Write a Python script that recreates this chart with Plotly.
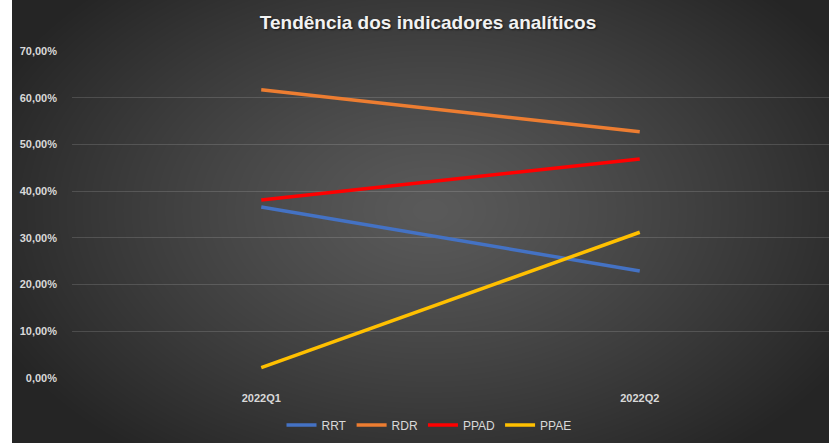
import base64, struct, zlib
import numpy as np
import plotly.graph_objects as go

# ---- data ----
categories = ["2022Q1", "2022Q2"]
rrt = [0.366, 0.229]
rdr = [0.617, 0.527]
ppad = [0.381, 0.469]
ppae = [0.022, 0.312]
series_names = ["RRT", "RDR", "PPAD", "PPAE"]
series_colors = ["#4472C4", "#ED7D31", "#FF0000", "#FFC000"]
y_tickvals = [0, 0.1, 0.2, 0.3, 0.4, 0.5, 0.6, 0.7]
y_ticktext = ["0,00%", "10,00%", "20,00%", "30,00%", "40,00%", "50,00%", "60,00%", "70,00%"]
title_text = "Tendência dos indicadores analíticos"

# ---- background radial gradient image ----
W, H = 829, 443
CX0 = 12  # chart area starts here
L, T, PW, PH = 72, 51, 757, 327


def make_png(arr):
    h, w, _ = arr.shape
    raw = b"".join(b"\x00" + arr[i].tobytes() for i in range(h))

    def chunk(tag, data):
        c = struct.pack(">I", len(data)) + tag + data
        return c + struct.pack(">I", zlib.crc32(tag + data) & 0xFFFFFFFF)

    png = b"\x89PNG\r\n\x1a\n"
    png += chunk(b"IHDR", struct.pack(">IIBBBBB", w, h, 8, 2, 0, 0, 0))
    png += chunk(b"IDAT", zlib.compress(raw, 9))
    png += chunk(b"IEND", b"")
    return "data:image/png;base64," + base64.b64encode(png).decode()


gw, gh = W - CX0, H
xs = np.arange(gw)[None, :] + CX0
ys = np.arange(gh)[:, None]
cx, cy, rx, ry = 430, 210, 480, 310
t = np.sqrt(((xs - cx) / rx) ** 2 + ((ys - cy) / ry) ** 2)
t = np.clip(t, 0, 1)
val = 90 - (90 - 37) * t ** 1.2
img = np.repeat(val[:, :, None], 3, axis=2).astype(np.uint8)
bg_uri = make_png(img)

fig = go.Figure()
for name, color, vals in zip(series_names, series_colors, [rrt, rdr, ppad, ppae]):
    fig.add_trace(go.Scatter(
        x=categories, y=vals, name=name, mode="lines",
        line=dict(color=color, width=3.5),
        hoverinfo="skip",
    ))

fig.add_layout_image(dict(
    source=bg_uri, xref="paper", yref="paper",
    x=(CX0 - L) / PW, y=(T + PH) / PH,
    sizex=gw / PW, sizey=H / PH,
    xanchor="left", yanchor="top", sizing="stretch", layer="below",
))

fig.update_layout(
    width=W, height=H,
    margin=dict(l=L, r=W - L - PW, t=T, b=H - T - PH),
    paper_bgcolor="white",
    plot_bgcolor="rgba(0,0,0,0)",
    title=dict(
        text="<b>" + title_text + "</b>",
        x=428 / W, xref="container", xanchor="center",
        y=1 - 22 / H, yref="container", yanchor="middle",
        font=dict(family="Liberation Sans, Arial, sans-serif", size=19, color="#F2F2F2",
                  shadow="1px 1px 2px rgba(0,0,0,0.6)"),
    ),
    font=dict(family="Liberation Sans, Arial, sans-serif", color="#D9D9D9"),
    showlegend=True,
    legend=dict(
        orientation="h", x=429 / W, xref="container", xanchor="center",
        y=1 - 425 / H, yref="container", yanchor="middle",
        font=dict(size=12, color="#D9D9D9"),
        bgcolor="rgba(0,0,0,0)", itemwidth=30, tracegroupgap=0,
    ),
)
fig.update_xaxes(
    type="category", range=[-0.5, 1.5],
    showgrid=False, zeroline=False, showline=False,
    tickfont=dict(size=11, color="#D9D9D9", weight="bold"),
    ticks="", ticklabelstandoff=12,
)
fig.update_yaxes(
    range=[0, 0.7], tickvals=y_tickvals, ticktext=y_ticktext,
    showgrid=True, gridcolor="rgba(255,255,255,0.14)", gridwidth=1,
    zeroline=False, showline=False,
    tickfont=dict(size=11, color="#D9D9D9", weight="bold"),
    ticks="", ticklabelstandoff=14,
)

fig.write_html("out.html", config={"displayModeBar": False},
               post_script="document.body.style.margin='0';document.body.style.overflow='hidden';")
